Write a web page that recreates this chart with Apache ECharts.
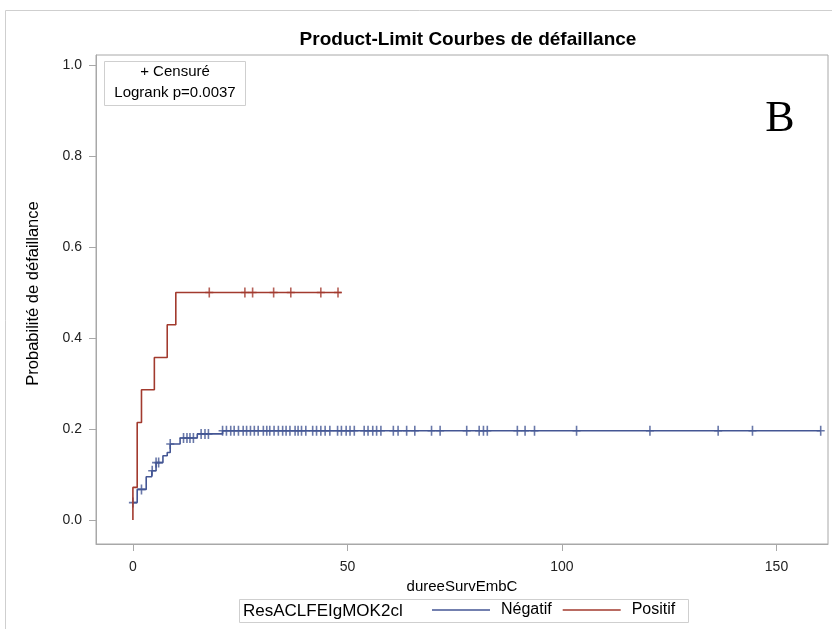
<!DOCTYPE html>
<html><head><meta charset="utf-8">
<script src="https://cdn.jsdelivr.net/npm/echarts@6/dist/echarts.min.js"></script>
<style>html,body{margin:0;padding:0;background:#fff}#c{width:832px;height:629px}</style>
</head><body><div id="c"></div>
<script>
// ---- Data ----
const titleText = 'Product-Limit Courbes de défaillance';
const xName = 'dureeSurvEmbC';
const yName = 'Probabilité de défaillance';
const groupVar = 'ResACLFEIgMOK2cl';
const groupNames = ['Négatif', 'Positif'];
const xTicks = [0, 50, 100, 150];
const yTicks = [0, 0.2, 0.4, 0.6, 0.8, 1.0];

// Négatif: step curve (time, failure probability after the step)
const negTimes = [0, 1, 3.1, 4.4, 5.4, 7.0, 8.0, 8.7, 11.0, 15.0, 20.9, 160.3];
const negProb  = [0.038, 0.067, 0.095, 0.108, 0.126, 0.141, 0.148, 0.167, 0.180, 0.189, 0.196, 0.196];
const negCensored = [0, 2, 4.5, 5.4, 6.0, 8.7, 11.8, 12.6, 13.3, 14.1, 15.9, 16.8, 17.6, 20.9,
  21.8, 22.8, 23.6, 24.6, 25.7, 26.5, 27.4, 28.3, 29.2, 30.4, 31.2, 31.9, 32.9, 33.9, 34.9, 35.7,
  36.6, 37.8, 38.5, 39.3, 40.3, 41.9, 42.8, 43.8, 44.8, 45.9, 47.7, 48.6, 49.7, 50.6, 51.6,
  53.9, 54.8, 55.9, 56.8, 57.8, 60.7, 61.8, 63.8, 65.7, 69.6, 71.6, 77.8, 80.7, 81.7, 82.6,
  89.6, 91.4, 93.6, 103.4, 120.5, 136.4, 144.4, 160.3];

// Positif
const posTimes = [0, 0, 1, 2, 5, 8, 10, 48.6];
const posProb  = [0, 0.0714, 0.214, 0.286, 0.357, 0.429, 0.5, 0.5];
const posCensored = [17.8, 26.1, 27.9, 32.8, 36.8, 43.8, 47.8];

const pValueText = 'Logrank p=0.0037';
const censorText = '+ Censuré';
const panelLetter = 'B';

// ---- Helpers ----
function zip(a, b) { return a.map((v, i) => [v, b[i]]); }
function stepAt(times, probs, t) {
  let v = probs[0];
  for (let i = 0; i < times.length; i++) { if (times[i] <= t) v = probs[i]; }
  return v;
}
const BLUE = '#445694', RED = '#A23A2E';
const FONT = 'Liberation Sans, Arial, sans-serif';
const plus = 'path://M0,4.2H8V5.8H0Z M3.2,0H4.8V10H3.2Z';
const AX = '#a8a8a8';

const chart = echarts.init(document.getElementById('c'));
chart.setOption({
  animation: false,
  backgroundColor: '#fff',
  title: {
    text: titleText, left: 463, top: 25, textAlign: 'center',
    textStyle: { fontFamily: FONT, fontSize: 19, fontWeight: 'bold', color: '#000' }
  },
  grid: { left: 96, top: 55, right: 4, bottom: 85, show: true, borderColor: AX, borderWidth: 1, containLabel: false },
  xAxis: {
    type: 'value', min: -8.6, max: 162,
    name: xName, nameLocation: 'middle', nameGap: 21,
    nameTextStyle: { fontFamily: FONT, fontSize: 15, color: '#000' },
    axisLine: { show: true, onZero: false, lineStyle: { color: AX } },
    axisTick: { show: true, inside: false, length: 7, lineStyle: { color: AX }, customValues: xTicks },
    axisLabel: { margin: 16, fontFamily: FONT, fontSize: 14, color: '#222', customValues: xTicks, formatter: v => String(v) },
    splitLine: { show: false }
  },
  yAxis: {
    type: 'value', min: -0.053, max: 1.022,
    name: yName, nameLocation: 'middle', nameGap: 54, nameRotate: 90,
    nameTextStyle: { fontFamily: FONT, fontSize: 16.5, color: '#000', padding: [0, 0, 0, 12] },
    axisLine: { show: true, onZero: false, lineStyle: { color: AX } },
    axisTick: { show: true, inside: false, length: 7, lineStyle: { color: AX }, customValues: yTicks },
    axisLabel: { margin: 14, fontFamily: FONT, fontSize: 14, color: '#222', customValues: yTicks, formatter: v => v.toFixed(1) },
    splitLine: { show: false }
  },
  legend: {
    data: groupNames, left: 432, top: 602, padding: 0, itemGap: 11,
    icon: 'path://M0,0H60V1.6H0Z', itemWidth: 58, itemHeight: 1.6,
    textStyle: { fontFamily: FONT, fontSize: 16, color: '#000', padding: [0, 0, 0, 6] },
    selectedMode: false
  },
  graphic: [
    { type: 'rect', shape: { x: 5.5, y: 10.5, width: 840, height: 640 }, style: { fill: 'none', stroke: '#cfcfcf', lineWidth: 1 }, silent: true, z: -10 },
    { type: 'rect', shape: { x: 104.5, y: 61.5, width: 141, height: 44 }, style: { fill: '#fff', stroke: '#cfcfcf', lineWidth: 1 }, z: 100 },
    { type: 'text', x: 175, y: 72, style: { text: censorText, fontFamily: FONT, fontSize: 15, fill: '#000', align: 'center', verticalAlign: 'middle' }, z: 101 },
    { type: 'text', x: 175, y: 93, style: { text: pValueText, fontFamily: FONT, fontSize: 15, fill: '#000', align: 'center', verticalAlign: 'middle' }, z: 101 },
    { type: 'text', x: 780, y: 119, style: { text: panelLetter, fontFamily: 'Liberation Serif, Times New Roman, serif', fontSize: 44, fill: '#000', align: 'center', verticalAlign: 'middle' }, z: 101 },
    { type: 'rect', shape: { x: 239.5, y: 599.5, width: 449, height: 23 }, style: { fill: 'none', stroke: '#cfcfcf', lineWidth: 1 }, z: 100 },
    { type: 'text', x: 243, y: 611, style: { text: groupVar, fontFamily: FONT, fontSize: 17, fill: '#000', align: 'left', verticalAlign: 'middle' }, z: 101 }
  ],
  series: [
    { name: groupNames[0], type: 'line', step: 'end', showSymbol: false, symbol: 'none',
      data: zip(negTimes, negProb), lineStyle: { color: BLUE, width: 1.6 }, itemStyle: { color: BLUE }, z: 2 },
    { name: 'censNeg', type: 'scatter', symbol: plus, symbolSize: [8, 10],
      data: negCensored.map(t => [t, stepAt(negTimes, negProb, t)]), itemStyle: { color: BLUE }, z: 3 },
    { name: groupNames[1], type: 'line', step: 'end', showSymbol: false, symbol: 'none',
      data: zip(posTimes, posProb), lineStyle: { color: RED, width: 1.6 }, itemStyle: { color: RED }, z: 4 },
    { name: 'censPos', type: 'scatter', symbol: plus, symbolSize: [8, 10],
      data: posCensored.map(t => [t, stepAt(posTimes, posProb, t)]), itemStyle: { color: RED }, z: 5 }
  ]
});
</script></body></html>
